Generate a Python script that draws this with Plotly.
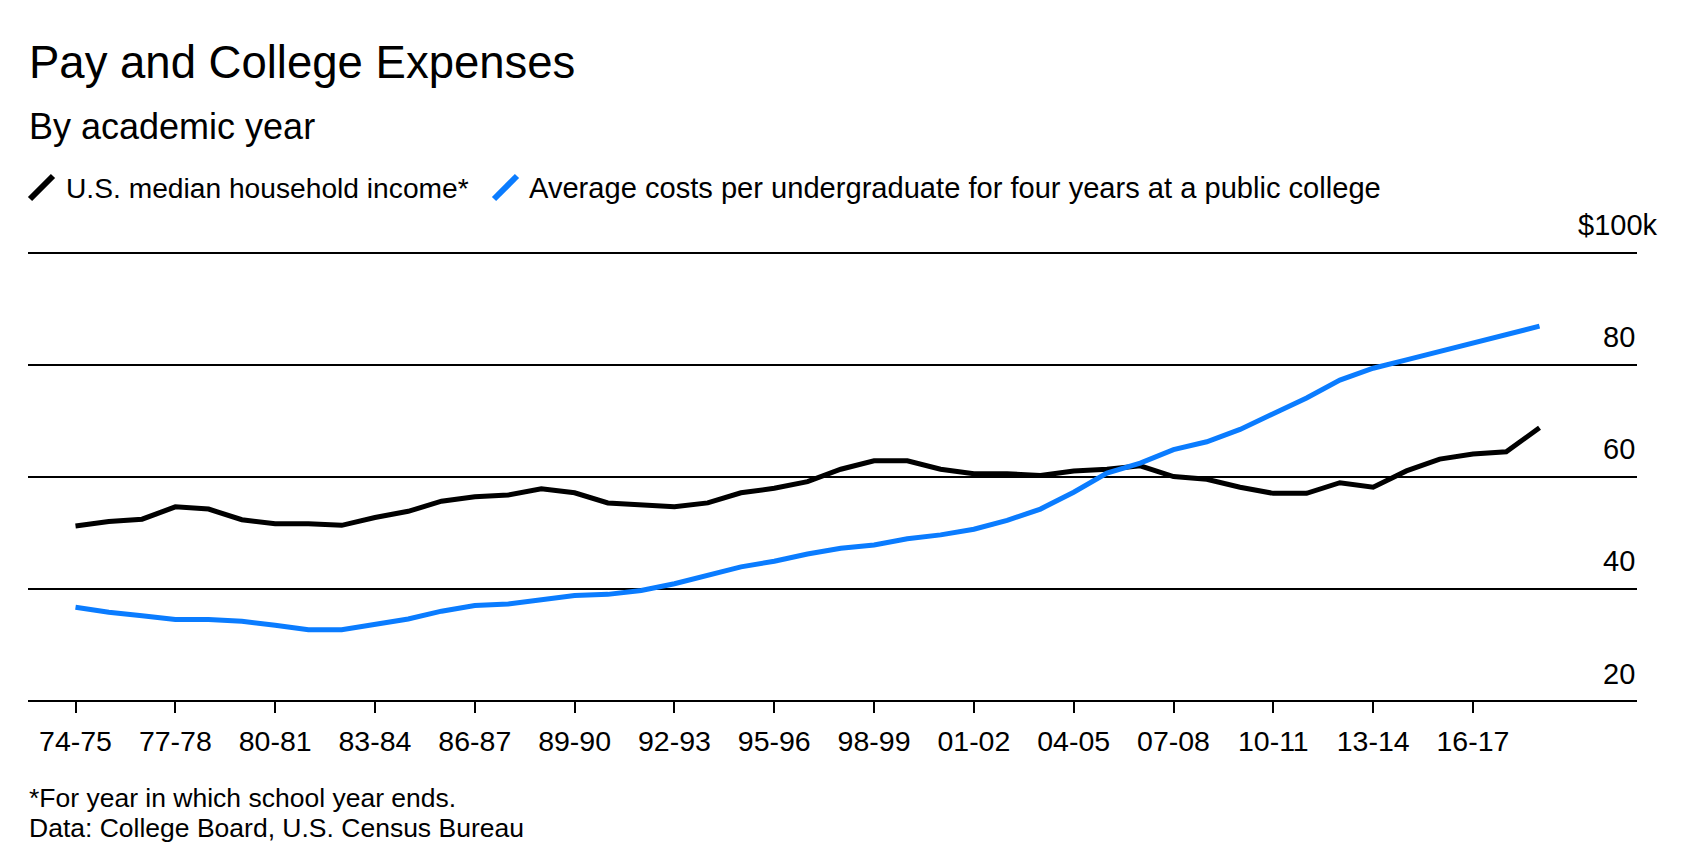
import plotly.graph_objects as go

# ---- data ----
years = ["74-75", "75-76", "76-77", "77-78", "78-79", "79-80", "80-81", "81-82", "82-83",
         "83-84", "84-85", "85-86", "86-87", "87-88", "88-89", "89-90", "90-91", "91-92",
         "92-93", "93-94", "94-95", "95-96", "96-97", "97-98", "98-99", "99-00", "00-01",
         "01-02", "02-03", "03-04", "04-05", "05-06", "06-07", "07-08", "08-09", "09-10",
         "10-11", "11-12", "12-13", "13-14", "14-15", "15-16", "16-17", "17-18", "18-19"]

income = [51.3, 52.1, 52.5, 54.7, 54.3, 52.4, 51.7, 51.7, 51.4, 52.8, 53.9, 55.7, 56.5,
          56.8, 57.9, 57.2, 55.4, 55.0, 54.7, 55.4, 57.2, 58.0, 59.2, 61.4, 62.9, 62.9,
          61.4, 60.6, 60.6, 60.3, 61.1, 61.4, 62.0, 60.1, 59.6, 58.2, 57.1, 57.1, 59.0,
          58.2, 61.1, 63.2, 64.1, 64.5, 68.8]

college = [36.8, 35.9, 35.3, 34.6, 34.6, 34.3, 33.6, 32.8, 32.8, 33.7, 34.7, 36.1, 37.1,
           37.4, 38.1, 38.9, 39.1, 39.8, 41.0, 42.4, 44.0, 45.0, 46.3, 47.3, 47.9, 49.0,
           49.7, 50.7, 52.3, 54.3, 57.3, 60.7, 62.5, 64.9, 66.3, 68.5, 71.4, 74.1, 77.3,
           79.4, 80.9, 82.4, 84.1, 85.6, 86.9]

tick_years = years[0:43:3]
y_ticks = [20, 40, 60, 80, 100]
y_labels = ["20", "40", "60", "80", "$100k"]

series_names = ["U.S. median household income*",
                "Average costs per undergraduate for four years at a public college"]

BLACK = "#000000"
BLUE = "#0a7cff"
FONT = "Liberation Sans, Arial, sans-serif"

W, H = 1696, 868
L, R, T, B = 28, 59, 250, 168
PW, PH = W - L - R, H - T - B
Y_RANGE = [20.27, 100.48]


def px(x):
    return (x - L) / PW


def py(y):
    return (H - B - y) / PH


def yval_to_paper(v):
    return (v - Y_RANGE[0]) / (Y_RANGE[1] - Y_RANGE[0])


fig = go.Figure()
fig.add_trace(go.Scatter(x=years, y=income, mode="lines", name=series_names[0],
                         line=dict(color=BLACK, width=5), showlegend=False))
fig.add_trace(go.Scatter(x=years, y=college, mode="lines", name=series_names[1],
                         line=dict(color=BLUE, width=5), showlegend=False))

fig.update_layout(
    width=W, height=H,
    margin=dict(l=L, r=R, t=T, b=B, pad=0),
    paper_bgcolor="white", plot_bgcolor="white",
    font=dict(family=FONT, color="black"),
    showlegend=False,
    xaxis=dict(type="category", range=[-1.428, 46.93], tickmode="array",
               tickvals=tick_years, ticktext=tick_years,
               ticks="outside", ticklen=11, tickwidth=1.5, tickcolor="black",
               showline=True, linecolor="black", linewidth=2,
               showgrid=False, zeroline=False, ticklabelstandoff=4,
               tickfont=dict(size=28.5, family=FONT, color="black")),
    yaxis=dict(range=Y_RANGE, tickmode="array", tickvals=y_ticks,
               showticklabels=False, showgrid=True, gridcolor="black", gridwidth=2,
               zeroline=False, showline=False, ticks=""),
)

# y labels above the grid lines
for v, lab in zip(y_ticks, y_labels):
    fig.add_annotation(x=1, xref="paper", y=yval_to_paper(v), yref="paper", text=lab,
                       showarrow=False, xanchor="right", yanchor="middle", yshift=28,
                       xshift=23 if lab.startswith("$") else 0,
                       font=dict(size=29, family=FONT, color="black"))

# title / subtitle
fig.add_annotation(x=px(27), y=py(62), xref="paper", yref="paper",
                   text="Pay and College Expenses", showarrow=False,
                   xanchor="left", yanchor="middle",
                   font=dict(size=45.5, family=FONT, color="black"))
fig.add_annotation(x=px(27), y=py(127), xref="paper", yref="paper",
                   text="By academic year", showarrow=False,
                   xanchor="left", yanchor="middle",
                   font=dict(size=36, family=FONT, color="black"))

# custom legend with slash markers
legend_items = [(series_names[0], BLACK, 30, 64, 28.2), (series_names[1], BLUE, 494, 527, 29.1)]
for name, col, sx, tx, fs in legend_items:
    fig.add_shape(type="line", xref="paper", yref="paper",
                  x0=px(sx), y0=py(199), x1=px(sx + 23), y1=py(176),
                  line=dict(color=col, width=6))
    fig.add_annotation(x=px(tx), y=py(188), xref="paper", yref="paper",
                       text=name, showarrow=False, xanchor="left", yanchor="middle",
                       font=dict(size=fs, family=FONT, color="black"))

# footnotes
fig.add_annotation(x=px(27), y=py(798), xref="paper", yref="paper",
                   text="*For year in which school year ends.", showarrow=False,
                   xanchor="left", yanchor="middle",
                   font=dict(size=26.5, family=FONT, color="black"))
fig.add_annotation(x=px(27), y=py(828), xref="paper", yref="paper",
                   text="Data: College Board, U.S. Census Bureau", showarrow=False,
                   xanchor="left", yanchor="middle",
                   font=dict(size=26.5, family=FONT, color="black"))

fig.write_html("out.html", config={"displayModeBar": False},
               post_script="document.body.style.margin='0';"
                           "document.body.style.overflow='hidden';")
